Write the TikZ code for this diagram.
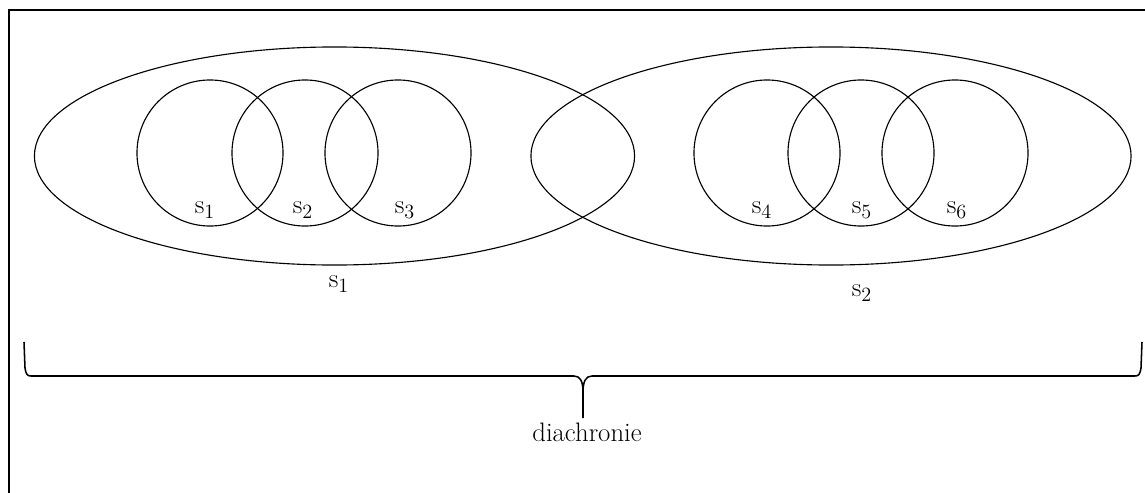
\documentclass[tikz,border=0pt]{standalone}
\usetikzlibrary{positioning, shapes.geometric}
\tikzset{
  field/.style={draw, ellipse, inner sep=0pt, minimum width=15cm, minimum height=5.45cm, line width=0.8pt},
  sense/.style={draw, circle, inner sep=0pt, minimum size=3.65cm, line width=0.8pt},
  lbl/.style={font=\fontsize{19}{22}\selectfont, inner sep=0pt},
  brace/.style={line width=1.1pt, line join=round}
}
\begin{document}
\begin{tikzpicture}[x=0.025cm, y=-0.025cm]
\useasboundingbox (0,0) rectangle (1145,493);
\draw[line width=1pt] (9,493) -- (9,10) -- (1145,10);
% two large fields
\node[field] (e1) at (334.5,156) {};
\node[field] (e2) at (831,156) {};
% overlapping senses
\foreach \i/\x in {1/210,2/305,3/398,4/767,5/861,6/955}
  \node[sense] (c\i) at (\x,153) {};
\foreach \i/\x/\n in {1/205/1,2/303/2,3/405/3,4/762/4,5/862/5,6/957/6}
  \node[lbl] (l\i) at (\x,210) {s$_\n$};
\node[lbl] (f1) at (339,284) {s$_1$};
\node[lbl] (f2) at (862,293) {s$_2$};
% brace
\coordinate (bl) at (24,342);
\coordinate (br) at (1142,342);
\coordinate (tip) at (583,418);
\draw[brace] (bl) -- (25,368) .. controls (26,374) and (27,376) .. (31,376) -- (574,376)
  .. controls (580,376) and (583,381) .. (583,392) -- (tip);
\draw[brace] (583,392) .. controls (583,381) and (586,376) .. (592,376) -- (1135,376)
  .. controls (1139,376) and (1140,374) .. (1141,368) -- (br);
\node[lbl, below=0.12cm of tip, xshift=0.1cm] (dia) {diachronie};
\end{tikzpicture}
\end{document}
